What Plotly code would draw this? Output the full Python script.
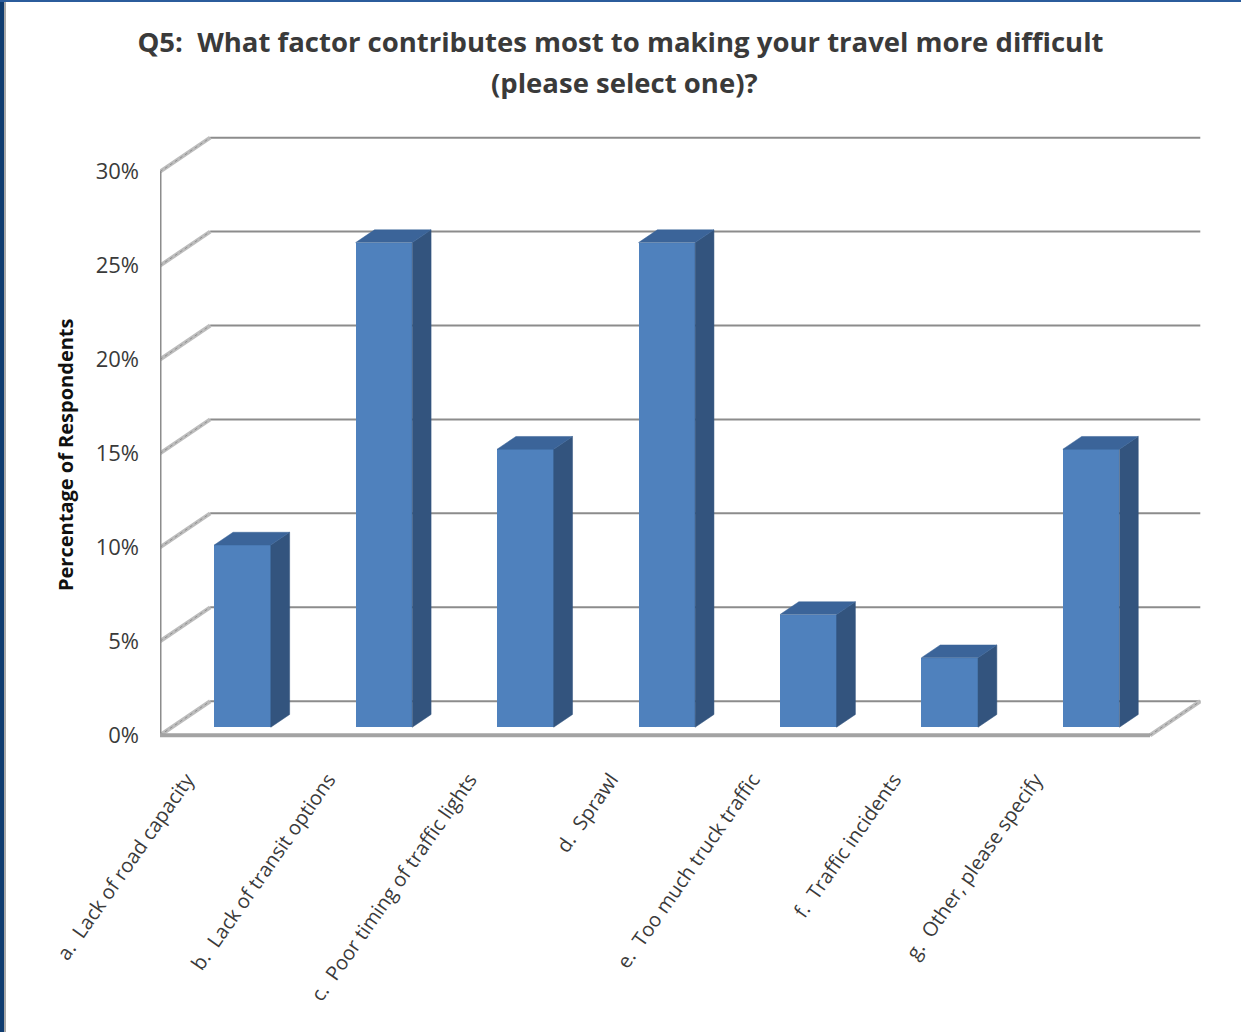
import plotly.graph_objects as go

# ---- data ----
categories = [
    "a.  Lack of road capacity",
    "b.  Lack of transit options",
    "c.  Poor timing of traffic lights",
    "d.  Sprawl",
    "e.  Too much truck traffic",
    "f.  Traffic incidents",
    "g.  Other, please specify",
]
values = [9.7, 25.8, 14.8, 25.8, 6.0, 3.7, 14.8]
y_ticks = [0, 5, 10, 15, 20, 25, 30]
y_ticktext = ["0%", "5%", "10%", "15%", "20%", "25%", "30%"]

title_line1 = "Q5:  What factor contributes most to making your travel more difficult"
title_line2 = "(please select one)?"
y_title = "Percentage of Respondents"

# ---- pseudo-3D geometry (in axis units) ----
DX = 0.355   # depth shift along x (categories) for full depth
DY = 1.81    # depth shift along y (percent) for full depth
D0 = 0.235   # depth of bar front face
D1 = 0.61    # depth of bar back face
BW = 0.40    # bar width (categories)
n = len(categories)
x_lo, x_hi = -0.5, n - 0.5
y_lo, y_hi = -1.0, 31.9

FRONT = "#4F81BD"
SIDE = "#33547E"
TOP = "#3B6499"
GRID = "#8C8C8C"
AXIS = "#A3A3A3"
DIAG = "#BDBDBD"
TXT = "#3A3A3A"
FONT = "Open Sans"

fig = go.Figure()

shapes = []
# back wall gridlines + diagonal connectors
for v in y_ticks:
    shapes.append(dict(type="line", xref="x", yref="y",
                       x0=x_lo + DX, y0=v + DY, x1=x_hi + DX, y1=v + DY,
                       line=dict(color=GRID, width=2), layer="below"))
    shapes.append(dict(type="line", xref="x", yref="y",
                       x0=x_lo, y0=v, x1=x_lo + DX, y1=v + DY,
                       line=dict(color=DIAG, width=4), layer="below"))
    shapes.append(dict(type="line", xref="x", yref="y",
                       x0=x_lo, y0=v, x1=x_lo + DX, y1=v + DY,
                       line=dict(color="#8E8E8E", width=1, dash="dot"), layer="below"))
# right floor diagonal
shapes.append(dict(type="line", xref="x", yref="y",
                   x0=x_hi, y0=0, x1=x_hi + DX, y1=DY,
                   line=dict(color=DIAG, width=4), layer="below"))
shapes.append(dict(type="line", xref="x", yref="y",
                   x0=x_hi, y0=0, x1=x_hi + DX, y1=DY,
                   line=dict(color="#8E8E8E", width=1, dash="dot"), layer="below"))
# front axes
shapes.append(dict(type="line", xref="x", yref="y",
                   x0=x_lo, y0=0, x1=x_lo, y1=y_ticks[-1],
                   line=dict(color=GRID, width=3), layer="below"))
shapes.append(dict(type="line", xref="x", yref="y",
                   x0=x_lo, y0=0, x1=x_hi, y1=0,
                   line=dict(color=AXIS, width=4), layer="below"))

# ---- bars: side and top faces as polygons, front face as bar ----
dd = D1 - D0
for i, v in enumerate(values):
    c = i + D0 * DX
    l, r = c - BW / 2, c + BW / 2
    yb = D0 * DY
    yt = v + D0 * DY
    # side face
    fig.add_trace(go.Scatter(
        x=[r, r, r + dd * DX, r + dd * DX, r],
        y=[yb, yt, yt + dd * DY, yb + dd * DY, yb],
        mode="lines", fill="toself", fillcolor=SIDE,
        line=dict(color=SIDE, width=0.5), hoverinfo="skip", showlegend=False))
    # top face
    fig.add_trace(go.Scatter(
        x=[l, r, r + dd * DX, l + dd * DX, l],
        y=[yt, yt, yt + dd * DY, yt + dd * DY, yt],
        mode="lines", fill="toself", fillcolor=TOP,
        line=dict(color=TOP, width=0.5), hoverinfo="skip", showlegend=False))

fig.add_trace(go.Bar(
    x=[i + D0 * DX for i in range(n)], y=values,
    base=[D0 * DY] * n, width=[BW] * n,
    marker=dict(color=FRONT, line=dict(width=0)),
    showlegend=False, hovertemplate="%{y:.1f}%<extra></extra>"))

# ---- layout (pixel helpers) ----
W, H = 1241, 1032
ML, MR, MT, MB = 160, 40, 136, 278
PW, PH = W - ML - MR, H - MT - MB

def px_x(p):
    return (p - ML) / PW

def px_y(p):
    return (H - MB - p) / PH

# screenshot frame strips
shapes.append(dict(type="rect", xref="paper", yref="paper",
                   x0=px_x(0), x1=px_x(4), y0=px_y(H), y1=px_y(0),
                   fillcolor="#0F3C70", line=dict(width=0), layer="above"))
shapes.append(dict(type="rect", xref="paper", yref="paper",
                   x0=px_x(4), x1=px_x(6), y0=px_y(H), y1=px_y(2),
                   fillcolor="#A8A8A8", line=dict(width=0), layer="above"))
shapes.append(dict(type="rect", xref="paper", yref="paper",
                   x0=px_x(0), x1=px_x(W), y0=px_y(2), y1=px_y(0),
                   fillcolor="#2B5C9C", line=dict(width=0), layer="above"))

fig.update_layout(
    width=W, height=H,
    margin=dict(l=ML, r=MR, t=MT, b=MB, pad=0),
    paper_bgcolor="white", plot_bgcolor="white",
    font=dict(family=FONT, color=TXT, size=20),
    shapes=shapes,
    bargap=0,
    xaxis=dict(range=[x_lo, x_hi + DX + 0.005], showgrid=False, zeroline=False,
               showline=False, tickmode="array", tickvals=list(range(n)),
               ticktext=categories, tickangle=-55, ticks="",
               tickfont=dict(family=FONT, size=20, color=TXT),
               ticklabelstandoff=9, ticklabelshift=-44, fixedrange=True),
    yaxis=dict(range=[y_lo, y_hi], showgrid=False, zeroline=False,
               showline=False, tickmode="array", tickvals=y_ticks,
               ticktext=y_ticktext, ticks="",
               tickfont=dict(family=FONT, size=22, color=TXT),
               ticklabelstandoff=20, fixedrange=True),
    title=dict(text="<b>" + title_line1 + "</b>", x=0.5, xanchor="center",
               xref="container", yref="container", y=1 - 42 / H,
               yanchor="middle", font=dict(family=FONT, size=27.5, color=TXT)),
    annotations=[
        dict(text="<b>" + title_line2 + "</b>", xref="paper", yref="paper",
             x=px_x(624), y=px_y(83), xanchor="center", yanchor="middle",
             showarrow=False, font=dict(family=FONT, size=27.5, color=TXT)),
        dict(text="<b>" + y_title + "</b>", xref="paper", yref="paper",
             x=px_x(66), y=px_y(455), xanchor="center", yanchor="middle",
             textangle=-90, showarrow=False,
             font=dict(family=FONT, size=20, color="#111111")),
    ],
)

fig.write_html("out.html", config={"displayModeBar": False},
               post_script="document.body.style.margin='0';")
